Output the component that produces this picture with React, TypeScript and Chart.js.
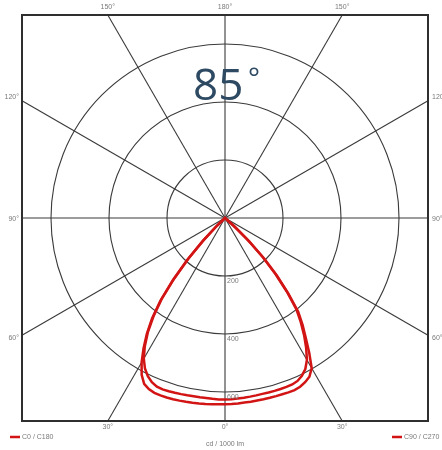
import React, { useEffect, useRef } from "react";
import { Chart, registerables } from "chart.js";

Chart.register(...registerables);

// ---- data ----
const ANGLE_STEP = 2; // degrees between radar categories
const angleLabels = Array.from({ length: 360 / ANGLE_STEP }, (_, i) => `${i * ANGLE_STEP}°`);

// gamma angles (deg) of the measured values on each half-plane
const gammaSide = [0, 2, 4, 6, 8, 10, 12, 14, 16, 18, 20, 22, 24, 26, 28, 30, 32, 34, 36, 38, 40, 42, 44, 46, 48, 50];

// cd / 1000 lm
const c180 = [642, 643, 644, 645, 646, 647, 648, 649, 650, 651, 651, 650, 646, 636, 612, 575, 530, 482, 428, 362, 280, 195, 112, 42, 0, 0];
const c0 = [642, 642, 641, 640, 640, 639, 639, 639, 639, 639, 640, 640, 637, 630, 620, 598, 548, 498, 455, 410, 340, 268, 195, 118, 45, 0];
const c270 = [626, 626, 625, 624, 624, 624, 625, 626, 627, 628, 629, 627, 620, 607, 588, 560, 522, 476, 420, 355, 272, 188, 106, 36, 0, 0];
const c90 = [626, 625, 624, 623, 622, 621, 620, 620, 620, 620, 620, 619, 615, 605, 590, 565, 528, 488, 445, 400, 332, 260, 188, 110, 40, 0];

const seriesNames = ["C0 / C180", "C90 / C270"];
const ringValues = [200, 400, 600];
const R_MAX = 700;
const spokeAngles = [0, 30, 60, 90, 120, 150, 180, 210, 240, 270, 300, 330];
const spokeTexts = ["0°", "30°", "60°", "90°", "120°", "150°", "180°", "150°", "120°", "90°", "60°", "30°"];
const titleNumber = "85";
const titleUnit = "°";
const unitText = "cd / 1000 lm";

// ---- styles ----
const RED = "#d21414";
const GRID = "#3a3a3a";
const TEXT = "#7a7a7a";
const SMALL_FONT = '7px "Liberation Sans", Arial, sans-serif';

function fullSeries(leftSide: number[], rightSide: number[]): number[] {
  return angleLabels.map((_, i) => {
    const a = i * ANGLE_STEP;
    if (a <= 180) {
      const k = gammaSide.indexOf(a);
      return k >= 0 ? leftSide[k] : 0;
    }
    const k = gammaSide.indexOf(360 - a);
    return k >= 0 ? rightSide[k] : 0;
  });
}

const polarDecor = {
  id: "polarDecor",
  beforeDatasetsDraw(chart: any) {
    const s = chart.scales.r;
    const ctx = chart.ctx;
    ctx.save();
    ctx.strokeStyle = GRID;
    ctx.lineWidth = 1.1;
    spokeAngles.forEach((a) => {
      const rad = (a * Math.PI) / 180;
      const ext = R_MAX / Math.max(Math.abs(Math.sin(rad)), Math.abs(Math.cos(rad)));
      const p = s.getPointPositionForValue(a / ANGLE_STEP, ext);
      ctx.beginPath();
      ctx.moveTo(s.xCenter, s.yCenter);
      ctx.lineTo(p.x, p.y);
      ctx.stroke();
    });
    ctx.restore();
  },
  afterDraw(chart: any) {
    const s = chart.scales.r;
    const ctx = chart.ctx;
    const D = s.getDistanceFromCenterForValue(R_MAX);
    const cx = s.xCenter;
    const cy = s.yCenter;
    ctx.save();
    // frame
    ctx.strokeStyle = "#2f2f2f";
    ctx.lineWidth = 2;
    ctx.strokeRect(cx - D, cy - D, 2 * D, 2 * D);

    // spoke labels
    ctx.font = SMALL_FONT;
    ctx.fillStyle = TEXT;
    spokeAngles.forEach((a, idx) => {
      const rad = (a * Math.PI) / 180;
      const ext = R_MAX / Math.max(Math.abs(Math.sin(rad)), Math.abs(Math.cos(rad)));
      const p = s.getPointPositionForValue(a / ANGLE_STEP, ext);
      const txt = spokeTexts[idx];
      if (Math.abs(Math.cos(rad)) >= Math.abs(Math.sin(rad))) {
        ctx.textAlign = "center";
        ctx.textBaseline = "middle";
        if (p.y < cy) ctx.fillText(txt, p.x, p.y - 8);
        else ctx.fillText(txt, p.x, p.y + 6);
      } else {
        ctx.textBaseline = "middle";
        const dy = p.y < cy - 1 ? -4 : p.y > cy + 1 ? 3 : 1;
        if (p.x < cx) {
          ctx.textAlign = "right";
          ctx.fillText(txt, p.x - 3, p.y + dy);
        } else {
          ctx.textAlign = "left";
          ctx.fillText(txt, p.x + 4, p.y + dy);
        }
      }
    });

    // ring labels
    ctx.textAlign = "left";
    ctx.textBaseline = "top";
    ringValues.forEach((v) => {
      const d = s.getDistanceFromCenterForValue(v);
      ctx.fillText(String(v), cx + 2, cy + d + 2);
    });

    // unit
    ctx.textAlign = "center";
    ctx.textBaseline = "middle";
    ctx.fillText(unitText, cx, 444);

    // legend
    const legendY = 437;
    ctx.strokeStyle = RED;
    ctx.lineWidth = 2.5;
    ctx.beginPath();
    ctx.moveTo(10, legendY);
    ctx.lineTo(20, legendY);
    ctx.moveTo(392, legendY);
    ctx.lineTo(402, legendY);
    ctx.stroke();
    ctx.textAlign = "left";
    ctx.fillText(seriesNames[0], 22, legendY);
    ctx.fillText(seriesNames[1], 404, legendY);

    // big title
    ctx.fillStyle = "#2e4a63";
    ctx.textAlign = "left";
    ctx.textBaseline = "alphabetic";
    ctx.font = '44px "Open Sans", sans-serif';
    ctx.fillText(titleNumber, 193, 100);
    ctx.font = '28px "Open Sans", sans-serif';
    ctx.fillText(titleUnit, 248, 88);
    ctx.restore();
  },
};

export default function App() {
  const canvasRef = useRef<HTMLCanvasElement | null>(null);

  useEffect(() => {
    const canvas = canvasRef.current;
    if (!canvas) return;
    const chart = new Chart(canvas, {
      type: "radar",
      data: {
        labels: angleLabels,
        datasets: [
          {
            label: seriesNames[0],
            data: fullSeries(c180, c0),
            borderColor: RED,
            borderWidth: 2.5,
            pointRadius: 0,
            fill: false,
            tension: 0,
          },
          {
            label: seriesNames[1],
            data: fullSeries(c270, c90),
            borderColor: RED,
            borderWidth: 2.5,
            pointRadius: 0,
            fill: false,
            tension: 0,
          },
        ],
      },
      options: {
        responsive: false,
        animation: false,
        events: [],
        layout: { padding: { left: 22, right: 13, top: 15, bottom: 28 } },
        plugins: {
          legend: { display: false },
          tooltip: { enabled: false },
        },
        scales: {
          r: {
            min: 0,
            max: R_MAX,
            startAngle: 180,
            ticks: { display: false, stepSize: 200 },
            grid: { circular: true, color: GRID, lineWidth: 1.1 },
            angleLines: { display: false },
            pointLabels: { display: false },
            afterBuildTicks: (scale: any) => {
              scale.ticks = scale.ticks.filter((t: any) => t.value < R_MAX);
            },
          },
        },
      },
      plugins: [polarDecor],
    });
    return () => chart.destroy();
  }, []);

  return (
    <div style={{ position: "fixed", left: 0, top: 0, width: 442, height: 450, background: "#fff" }}>
      <canvas ref={canvasRef} width={442} height={450} style={{ display: "block" }} />
    </div>
  );
}
